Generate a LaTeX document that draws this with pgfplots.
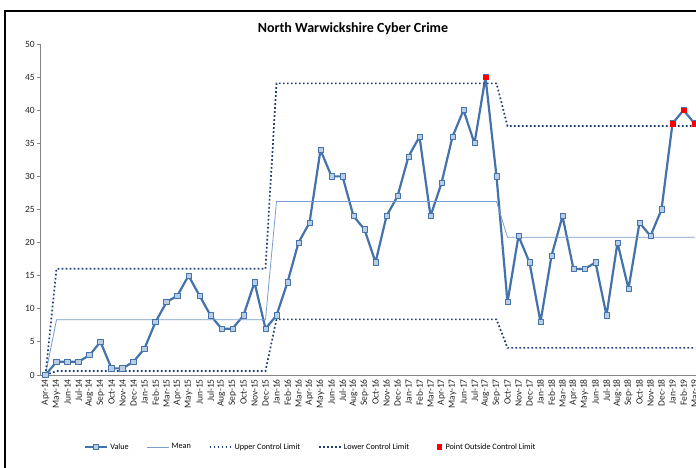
\documentclass[border=0pt]{standalone}
\usepackage{pgfplots}
\pgfplotsset{compat=1.18}
\usepackage{pgfplotstable}
\usepackage{fontspec}
\setmainfont{Carlito}

\definecolor{valblue}{RGB}{68,114,170}
\definecolor{valfill}{RGB}{185,205,229}
\definecolor{meanblue}{RGB}{120,158,207}
\definecolor{limitnavy}{RGB}{31,62,120}
\definecolor{axisgray}{RGB}{134,134,134}

\pgfplotsset{point legend/.style={legend image code/.code={\path (0pt,0pt) (16pt,0pt); \draw[##1] plot coordinates {(12pt,0pt)};}}}

% idx value mean ucl lcl
\pgfplotstableread{
idx value mean ucl lcl
0 0 0 0 0
1 2 8.35 16.05 0.6
2 2 8.35 16.05 0.6
3 2 8.35 16.05 0.6
4 3 8.35 16.05 0.6
5 5 8.35 16.05 0.6
6 1 8.35 16.05 0.6
7 1 8.35 16.05 0.6
8 2 8.35 16.05 0.6
9 4 8.35 16.05 0.6
10 8 8.35 16.05 0.6
11 11 8.35 16.05 0.6
12 12 8.35 16.05 0.6
13 15 8.35 16.05 0.6
14 12 8.35 16.05 0.6
15 9 8.35 16.05 0.6
16 7 8.35 16.05 0.6
17 7 8.35 16.05 0.6
18 9 8.35 16.05 0.6
19 14 8.35 16.05 0.6
20 7 8.35 16.05 0.6
21 9 26.2 44.05 8.4
22 14 26.2 44.05 8.4
23 20 26.2 44.05 8.4
24 23 26.2 44.05 8.4
25 34 26.2 44.05 8.4
26 30 26.2 44.05 8.4
27 30 26.2 44.05 8.4
28 24 26.2 44.05 8.4
29 22 26.2 44.05 8.4
30 17 26.2 44.05 8.4
31 24 26.2 44.05 8.4
32 27 26.2 44.05 8.4
33 33 26.2 44.05 8.4
34 36 26.2 44.05 8.4
35 24 26.2 44.05 8.4
36 29 26.2 44.05 8.4
37 36 26.2 44.05 8.4
38 40 26.2 44.05 8.4
39 35 26.2 44.05 8.4
40 45 26.2 44.05 8.4
41 30 26.2 44.05 8.4
42 11 20.8 37.6 4.1
43 21 20.8 37.6 4.1
44 17 20.8 37.6 4.1
45 8 20.8 37.6 4.1
46 18 20.8 37.6 4.1
47 24 20.8 37.6 4.1
48 16 20.8 37.6 4.1
49 16 20.8 37.6 4.1
50 17 20.8 37.6 4.1
51 9 20.8 37.6 4.1
52 20 20.8 37.6 4.1
53 13 20.8 37.6 4.1
54 23 20.8 37.6 4.1
55 21 20.8 37.6 4.1
56 25 20.8 37.6 4.1
57 38 20.8 37.6 4.1
58 40 20.8 37.6 4.1
59 38 20.8 37.6 4.1
}\spcdata

\begin{document}
\begin{tikzpicture}[x=1pt,y=1pt]
\useasboundingbox (0,0) rectangle (696,468);
\clip (0,0) rectangle (696,468);
\fill[white] (0,0) rectangle (696,468);
\draw[black,line width=2pt] (5,-2) -- (5,457) -- (700,457);
\node[font=\fontsize{14}{16}\selectfont\bfseries] at (353,439) {North Warwickshire Cyber Crime};
\begin{axis}[
    at={(40pt,93pt)}, anchor=south west,
    scale only axis, width=660pt, height=331pt,
    xmin=-0.5, xmax=59.5, ymin=0, ymax=50,
    axis lines*=left,
    axis line style={axisgray, line width=0.8pt, -},
    ytick={0,5,...,50},
    xtick={0,...,59},
    xticklabels={Apr-14,May-14,Jun-14,Jul-14,Aug-14,Sep-14,Oct-14,Nov-14,Dec-14,
      Jan-15,Feb-15,Mar-15,Apr-15,May-15,Jun-15,Jul-15,Aug-15,Sep-15,Oct-15,Nov-15,Dec-15,
      Jan-16,Feb-16,Mar-16,Apr-16,May-16,Jun-16,Jul-16,Aug-16,Sep-16,Oct-16,Nov-16,Dec-16,
      Jan-17,Feb-17,Mar-17,Apr-17,May-17,Jun-17,Jul-17,Aug-17,Sep-17,Oct-17,Nov-17,Dec-17,
      Jan-18,Feb-18,Mar-18,Apr-18,May-18,Jun-18,Jul-18,Aug-18,Sep-18,Oct-18,Nov-18,Dec-18,
      Jan-19,Feb-19,Mar-19},
    x tick label style={rotate=90, anchor=east, font=\fontsize{9.5}{10}\selectfont, text=black!85, inner sep=1pt},
    y tick label style={font=\fontsize{9.5}{10}\selectfont, text=black!85, inner sep=2pt},
    /pgf/number format/assume math mode=true,
    xtick style={draw=none},
    ytick style={axisgray, line width=0.8pt},
    ytick pos=left, tick align=outside,
    major tick length=3pt,
    clip=false,
    legend columns=5,
    legend cell align=left,
    legend style={draw=none, fill=none, at={(0.062,-0.2175)}, anchor=west,
      font=\fontsize{8.2}{10}\selectfont,
      /tikz/every even column/.append style={column sep=16pt}},
    legend image code/.code={\draw[mark repeat=2,mark phase=2,#1] plot coordinates {(0pt,0pt) (11pt,0pt) (22pt,0pt)};},
]
\addplot[valblue, line width=2.2pt, line join=round, mark=square*, mark size=2.6pt,
    mark options={fill=valfill, draw=valblue, line width=0.8pt}] table[x=idx, y=value] {\spcdata};
\addlegendentry{Value}
\addplot[meanblue, line width=0.8pt] table[x=idx, y=mean] {\spcdata};
\addlegendentry{Mean}
\addplot[limitnavy, line width=1.7pt, dash pattern=on 1.7pt off 2.3pt] table[x=idx, y=ucl] {\spcdata};
\addlegendentry{Upper Control Limit}
\addplot[limitnavy, line width=1.7pt, dash pattern=on 1.7pt off 2.3pt] table[x=idx, y=lcl] {\spcdata};
\addlegendentry{Lower Control Limit}
\addplot[only marks, mark=square*, mark size=2.3pt, red, mark options={fill=red, draw=red}, point legend]
    coordinates {(40,45) (57,38) (58,40) (59,38)};
\addlegendentry{Point Outside Control Limit}
\end{axis}
\end{tikzpicture}
\end{document}
